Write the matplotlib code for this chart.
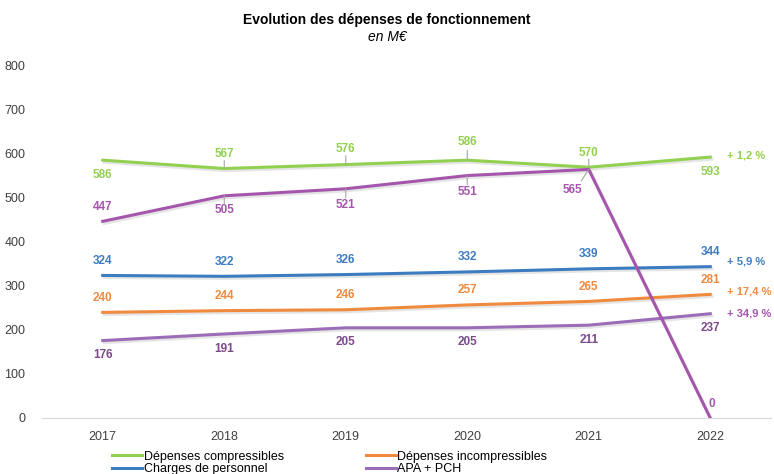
import matplotlib
matplotlib.use("Agg")
from matplotlib import pyplot as plt
from matplotlib.lines import Line2D
import matplotlib.patheffects as pe

plt.rcParams['font.family'] = ['Liberation Sans', 'DejaVu Sans']

years = ['2017', '2018', '2019', '2020', '2021', '2022']
compressibles = [586, 567, 576, 586, 570, 593]
incompressibles = [240, 244, 246, 257, 265, 281]
personnel = [324, 322, 326, 332, 339, 344]
apa_pch = [176, 191, 205, 205, 211, 237]
autres = [447, 505, 521, 551, 565, 0]   # series drawn without legend entry
evolutions = ['+ 1,2 %', '+ 5,9 %', '+ 17,4 %', '+ 34,9 %']

green = '#92D050'
orange = '#F08A3E'
blue = '#3D7CC0'
purple = '#9B6DB8'
purple_lab = '#7B4A8B'
magenta = '#A556AC'

fig = plt.figure(figsize=(7.74, 4.74), dpi=100)
ax = fig.add_axes([42 / 774, 56 / 474, 729 / 774, 352 / 474])

x = list(range(len(years)))
shadow = [pe.SimpleLineShadow(offset=(1.2, -1.5), alpha=0.1), pe.Normal()]

series = [(compressibles, green, 'Dépenses compressibles'),
          (personnel, blue, 'Charges de personnel'),
          (incompressibles, orange, 'Dépenses incompressibles'),
          (apa_pch, purple, 'APA + PCH')]
handles = []
for vals, c, name in series:
    ax.plot(x, vals, color=c, lw=2.2, path_effects=shadow)
    handles.append(Line2D([], [], color=c, lw=2.2, label=name))
ax.plot(x, autres, color=magenta, lw=2.2, path_effects=shadow)

def labels(vals, color, offs, leaders=()):
    for i, v in enumerate(vals):
        dx, dy = offs[i]
        ax.annotate(str(v), (i, v), xytext=(dx, dy), textcoords='offset points',
                    ha='center', va='center', fontsize=8.5, fontweight='bold', color=color)
        if i in leaders:
            ax.annotate('', (i, v), xytext=(dx * 0.45, dy * 0.55), textcoords='offset points',
                        arrowprops=dict(arrowstyle='-', color='#A6A6A6', lw=0.8, shrinkA=0, shrinkB=0))

up = (0, 10.5)
down = (0, -10.5)
labels(compressibles, green, [down, up, (0, 11.5), (0, 13), up, down], leaders=(1, 2, 3, 4))
labels(autres, magenta, [up, down, (0, -12), (0, -12), (-12, -15), (1, 10)], leaders=(1, 2, 3, 4))
labels(personnel, blue, [up] * 6)
labels(incompressibles, orange, [up] * 6)
labels(apa_pch, purple_lab, [down] * 6)

# evolution percentages on the right
for txt, y, c in zip(evolutions, [155, 262, 291, 313], [green, blue, orange, magenta]):
    fig.text(727 / 774, 1 - y / 474, txt, ha='left', va='center', fontsize=8,
             fontweight='bold', color=c)

ax.set_xlim(-0.5, 5.5)
ax.set_ylim(0, 800)
ax.set_yticks(range(0, 801, 100))
ax.set_xticks(x)
ax.set_xticklabels(years)
ax.tick_params(axis='both', length=0, labelsize=9, colors='#404040')
ax.tick_params(axis='y', pad=12)
ax.tick_params(axis='x', pad=9)
for s in ['top', 'right', 'left']:
    ax.spines[s].set_visible(False)
ax.spines['bottom'].set_color('#D9D9D9')

fig.text(0.5, 1 - 20 / 474, 'Evolution des dépenses de fonctionnement', ha='center', va='center',
         fontsize=10, fontweight='bold')
fig.text(0.5, 1 - 37 / 474, 'en M€', ha='center', va='center', fontsize=10, style='italic')

fig.legend(handles=handles, loc='center left', bbox_to_anchor=(106 / 774, 1 - 463 / 474), ncol=2,
           frameon=False, fontsize=9, handlelength=2.4, handletextpad=0.1, columnspacing=6.6,
           labelspacing=0.05, borderpad=0)

fig.savefig('out.png', dpi=100)
